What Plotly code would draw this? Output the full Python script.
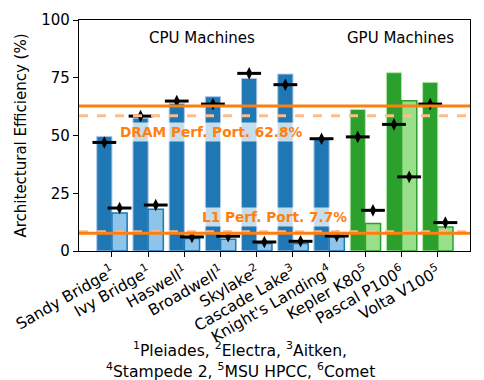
import plotly.graph_objects as go

# Datos
machines = ["Sandy Bridge<sup>1</sup>", "Ivy Bridge<sup>1</sup>", "Haswell<sup>1</sup>",
            "Broadwell<sup>1</sup>", "Skylake<sup>2</sup>", "Cascade Lake<sup>3</sup>",
            "Knight's Landing<sup>4</sup>", "Kepler K80<sup>5</sup>",
            "Pascal P100<sup>6</sup>", "Volta V100<sup>5</sup>"]
is_gpu = [False, False, False, False, False, False, False, True, True, True]

dram_bar = [49.6, 57.5, 63.9, 66.8, 74.7, 76.6, 48.3, 61.3, 77.2, 73.0]
dram_mark = [47.0, 58.4, 64.9, 63.6, 76.9, 72.0, 48.6, 49.4, 54.8, 63.6]
l1_bar = [16.5, 18.1, 5.4, 5.1, 3.2, 3.2, 6.1, 11.9, 65.0, 10.4]
l1_mark = [18.6, 19.9, 6.1, 6.4, 3.9, 4.2, 6.5, 17.6, 32.1, 12.3]

dram_pp = 62.8
dram_pp_alt = 58.5
l1_pp = 7.7
l1_pp_alt = 8.3

footnote1 = "<sup>1</sup>Pleiades, <sup>2</sup>Electra, <sup>3</sup>Aitken,"
footnote2 = "<sup>4</sup>Stampede 2, <sup>5</sup>MSU HPCC, <sup>6</sup>Comet"

BLUE, LBLUE, EBLUE = "#1f77b4", "#8ec3ea", "#aec7e8"
GREEN, LGREEN, EGREEN = "#2ca02c", "#98df8a", "#b5e8ac"
ORANGE, LORANGE = "#ff7f0e", "#ffbb88"

idx = list(range(len(machines)))
W = 0.42

fig = go.Figure()

fig.add_trace(go.Bar(
    x=idx, y=dram_bar, width=W, offset=-W,
    marker=dict(color=[GREEN if g else BLUE for g in is_gpu],
                line=dict(color=[EGREEN if g else EBLUE for g in is_gpu], width=1)),
    showlegend=False))
fig.add_trace(go.Bar(
    x=idx, y=l1_bar, width=W, offset=0,
    marker=dict(color=[LGREEN if g else LBLUE for g in is_gpu],
                line=dict(color=[GREEN if g else BLUE for g in is_gpu], width=1.5)),
    showlegend=False))

# Líneas de portabilidad
for y, col, dash in [(dram_pp_alt, LORANGE, "dash"), (l1_pp_alt, LORANGE, "dash"),
                     (dram_pp, ORANGE, "solid"), (l1_pp, ORANGE, "solid")]:
    fig.add_shape(type="line", xref="paper", x0=0, x1=1, y0=y, y1=y,
                  line=dict(color=col, width=3, dash=dash), layer="above")

# Marcadores
mx = [i - W / 2 for i in idx] + [i + W / 2 for i in idx]
my = dram_mark + l1_mark
fig.add_trace(go.Scatter(x=mx, y=my, mode="markers", showlegend=False,
                         marker=dict(symbol="line-ew", size=17,
                                     line=dict(color="black", width=3))))
fig.add_trace(go.Scatter(x=mx, y=my, mode="markers", showlegend=False,
                         marker=dict(symbol="diamond-tall", size=9, color="black")))

ann_font = dict(family="DejaVu Sans", size=15, color="black")
lab_font = dict(family="DejaVu Sans", size=13.7, color=ORANGE, weight="bold")
fig.add_annotation(x=2.49, y=92, text="CPU Machines", showarrow=False, font=ann_font)
fig.add_annotation(x=7.96, y=92, text="GPU Machines", showarrow=False, font=ann_font)
fig.add_annotation(x=2.74, y=51.7, text=f"DRAM Perf. Port. {dram_pp}%", showarrow=False,
                   font=lab_font, bgcolor="rgba(255,255,255,0.75)", borderpad=1)
fig.add_annotation(x=4.5, y=14.6, text=f"L1 Perf. Port. {l1_pp}%", showarrow=False,
                   font=lab_font, bgcolor="rgba(255,255,255,0.75)", borderpad=1)

foot_font = dict(family="DejaVu Sans", size=15.6, color="black")
fig.add_annotation(xref="paper", yref="paper", x=0.412, y=-0.426,
                   xanchor="center", yanchor="middle",
                   text=footnote1, showarrow=False, font=foot_font)
fig.add_annotation(xref="paper", yref="paper", x=0.412, y=-0.517,
                   xanchor="center", yanchor="middle",
                   text=footnote2, showarrow=False, font=foot_font)

fig.update_xaxes(range=[-0.91, 9.89], tickvals=idx, ticktext=machines, tickangle=-30,
                 ticks="outside", ticklen=5, tickcolor="black", automargin=False,
                 showline=True, linecolor="black", linewidth=1.2, mirror=True,
                 showgrid=False, zeroline=False,
                 tickfont=dict(family="DejaVu Sans", size=15.5, color="black"))
fig.update_yaxes(range=[0, 100], tickvals=[0, 25, 50, 75, 100], automargin=False,
                 ticks="outside", ticklen=5, tickcolor="black",
                 showline=True, linecolor="black", linewidth=1.2, mirror=True,
                 showgrid=False, zeroline=False,
                 title=dict(text="Architectural Efficiency (%)", standoff=11,
                            font=dict(family="DejaVu Sans", size=15, color="black")),
                 tickfont=dict(family="DejaVu Sans", size=15, color="black"))

# la página añade 8 px de margen, se compensa aquí
fig.update_layout(width=484, height=380, barmode="overlay",
                  margin=dict(l=71, r=22, t=12, b=137),
                  plot_bgcolor="white", paper_bgcolor="white",
                  font=dict(family="DejaVu Sans"))

fig.write_html("out.html")
